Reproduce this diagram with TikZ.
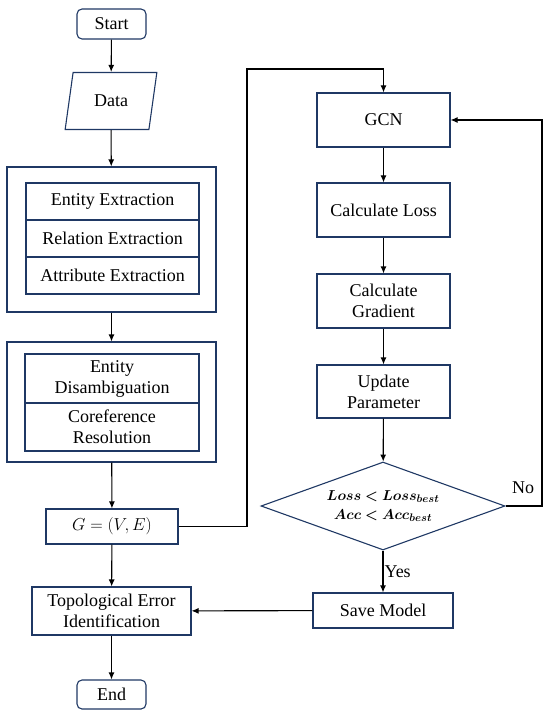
\documentclass[tikz,border=0pt]{standalone}
\usepackage{fontspec}
\setmainfont{Liberation Serif}
\usepackage{amsmath}
\usepackage{bm}
\usetikzlibrary{shapes.geometric, positioning, arrows.meta}

\definecolor{navy}{RGB}{31,56,100}

\tikzset{
  box/.style={draw=navy, line width=1.1pt, rectangle, align=center, inner sep=2pt},
  term/.style={box, rounded corners=5pt, minimum width=69pt, minimum height=30pt},
  arrow/.style={-{Latex[length=7pt,width=6pt]}, line width=1.1pt},
  line/.style={line width=1.1pt}
}

\begin{document}
\begin{tikzpicture}[x=1pt, y=-1pt, font=\fontsize{18}{21}\selectfont]
      \useasboundingbox (0,0) rectangle (550,719);
      % left column
      \node[term] (start) at (111.5,24) {Start};
      \node[box, trapezium, trapezium left angle=76, trapezium right angle=104,
        trapezium stretches=true, minimum width=92pt, minimum height=57pt] (data) at (111,101) {Data};
      \node[box, minimum width=209pt, minimum height=145pt] (ext) at (111.5,239.5) {};
      \node[box, minimum width=173pt, minimum height=37pt] (ent) at (112.5,201.5) {Entity Extraction};
      \node[box, minimum width=173pt, minimum height=37pt] (rel) at (112.5,238.5) {Relation Extraction};
      \node[box, minimum width=173pt, minimum height=37pt] (att) at (112.5,275.5) {Attribute Extraction};
      \node[box, minimum width=209pt, minimum height=120pt] (fus) at (111.5,402) {};
      \node[box, minimum width=174pt, minimum height=49pt] (dis) at (112,378.5) {Entity\\Disambiguation};
      \node[box, minimum width=174pt, minimum height=48pt] (cor) at (112,427) {Coreference\\Resolution};
      \node[box, minimum width=132pt, minimum height=35pt] (graph) at (112,526.5) {$G=(V,E)$};
      \node[box, minimum width=159pt, minimum height=48pt] (topo) at (111.5,611) {Topological Error\\Identification};
      \node[term, minimum height=29pt] (end) at (111.5,694.5) {End};
      % right column
      \node[box, minimum width=133pt, minimum height=54pt] (gcn) at (383.5,120) {GCN};
      \node[box, minimum width=133pt, minimum height=54pt] (loss) at (383.5,210) {Calculate Loss};
      \node[box, minimum width=133pt, minimum height=54pt] (grad) at (383.5,301) {Calculate\\Gradient};
      \node[box, minimum width=133pt, minimum height=53pt] (upd) at (383.5,391.5) {Update\\Parameter};
      \node[box, diamond, aspect=2.77, inner sep=0pt, minimum width=244pt, minimum height=88pt] (cond) at (383,506)
      {\fontsize{15}{18}\selectfont $\bm{Loss<Loss_{best}}$\\[-2pt]
        \fontsize{15}{18}\selectfont $\bm{Acc<Acc_{best}}$};
      \node[box, minimum width=140pt, minimum height=35pt] (save) at (383,610.5) {Save Model};
      \coordinate (up) at (247,69);
      \coordinate (back) at (542,120);
      % connectors
      \draw[arrow] (start) -- (data);
      \draw[arrow] (data) -- (ext);
      \draw[arrow] (ext) -- (fus);
      \draw[arrow] (fus) -- (graph);
      \draw[arrow] (graph) -- (topo);
      \draw[arrow] (topo) -- (end);
      \draw[arrow] (graph.east) -| (up) -| (gcn.north);
      \draw[arrow] (gcn) -- (loss);
      \draw[arrow] (loss) -- (grad);
      \draw[arrow] (grad) -- (upd);
      \draw[arrow] (upd) -- (cond);
      \draw[arrow] (cond.east) -| (back) -- (gcn.east);
      \node (no) at (523,488) {No};
      \draw[arrow] (cond) -- node[right, pos=0.5, inner sep=1pt] {Yes} (save);
      \draw[arrow] (save) -- (topo);
\end{tikzpicture}
\end{document}
